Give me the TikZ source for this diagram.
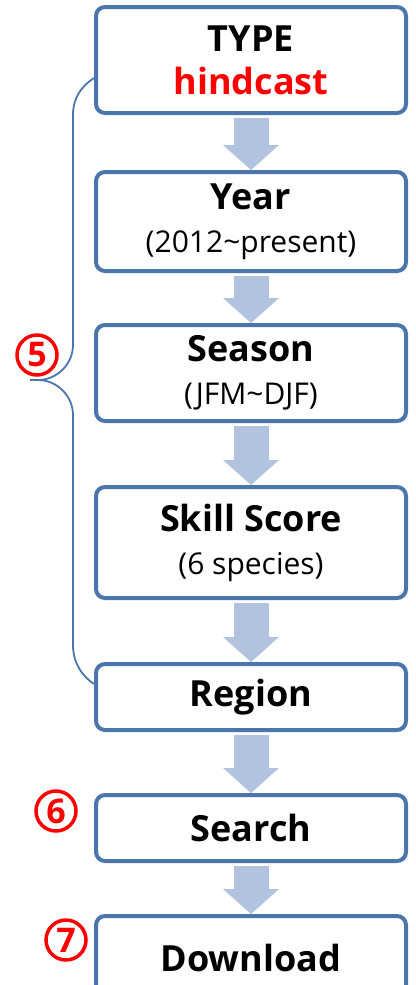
\documentclass[tikz,border=0pt]{standalone}
\usepackage{fontspec}
\setmainfont{Open Sans}
\usetikzlibrary{arrows.meta}
\definecolor{boxblue}{RGB}{74,118,172}
\definecolor{arrowblue}{RGB}{177,195,222}
\newcommand{\subline}[1]{{\fontsize{30}{43}\selectfont\mdseries #1}}

\begin{document}
\begin{tikzpicture}[x=1pt,y=-1pt,
		stepbox/.style={draw=boxblue,line width=4pt,rounded corners=9pt,fill=white,minimum width=310pt,align=center,font=\fontsize{36}{43}\selectfont\bfseries},
		flowarrow/.style={draw=arrowblue,line width=35pt,-{Triangle[length=25pt,width=56pt,line width=0pt]}},
		bracket/.style={draw=boxblue,line width=1.8pt},
		numcirc/.style={circle,draw=red,line width=3.5pt,minimum size=40pt,inner sep=0pt,text=red,font=\fontsize{34}{34}\selectfont\bfseries}]
			\useasboundingbox (0,0) rectangle (415,985);
			\node[stepbox,minimum height=106pt] (type) at (251,60) {TYPE\\\textcolor{red}{hindcast}};
			\node[stepbox,minimum height=99pt] (year) at (251,221.5) {Year\\\subline{(2012\textasciitilde present)}};
			\node[stepbox,minimum height=96pt] (season) at (251,373) {Season\\\subline{(JFM\textasciitilde DJF)}};
			\node[stepbox,minimum height=111pt] (skill) at (251,542.5) {Skill Score\\\subline{(6 species)}};
			\node[stepbox,minimum height=66pt] (region) at (251,697) {Region};
			\node[stepbox,minimum height=66pt] (search) at (251,828) {Search};
			\node[stepbox,minimum height=84pt] (download) at (251,958) {Download};
			\foreach \a/\b in {type/year,year/season,season/skill,skill/region,region/search,search/download}
				\draw[flowarrow] ([yshift=-3pt]\a.south) -- (\b.north);
			\coordinate (bracetip) at (30,380);
			\draw[bracket] ([yshift=-18pt]type.west) .. controls (82,86) and (73,97) .. (73,115) -- (73,345)
				.. controls (73,364) and (57,380) .. (38,380) -- (bracetip) -- (38,380)
				.. controls (57,380) and (73,396) .. (73,415) -- (73,645)
				.. controls (73,663) and (82,676) .. ([yshift=13pt]region.west);
			\node[numcirc] (five) at (37,355) {5};
			\node[numcirc] (six) at (56,811) {6};
			\node[numcirc] (seven) at (66,940) {7};
		\end{tikzpicture}
\end{document}
